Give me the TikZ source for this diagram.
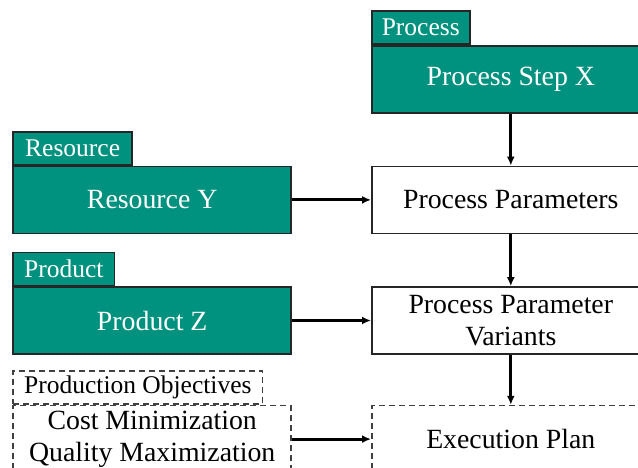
\documentclass[tikz,border=0pt]{standalone}
\usepackage{fontspec}
\setmainfont{Liberation Serif}
\usetikzlibrary{arrows.meta,positioning}

\definecolor{procteal}{RGB}{0,146,126}
\newcommand\entfont{\fontsize{27.8}{32}\selectfont}
\newcommand\labfont{\fontsize{25.5}{28}\selectfont}

\begin{document}
\begin{tikzpicture}[x=1pt, y=-1pt,
     body/.style={draw=black!85, line width=1.6pt, minimum width=278pt, minimum height=67pt,
                  inner sep=0pt, align=center, font=\entfont},
     entity/.style={body, fill=procteal, text=white},
     plan/.style={body, draw=black!75, dashed, dash pattern=on 6pt off 4pt},
     tab/.style={draw=black!85, line width=1.6pt, fill=procteal, text=white, minimum height=33pt,
                 inner xsep=10pt, inner ysep=0pt, font=\labfont, anchor=south west},
     dtab/.style={tab, draw=black!75, fill=none, text=black, dashed, dash pattern=on 6pt off 4pt},
     flow/.style={-{Latex[length=9pt,width=8pt]}, line width=3pt}]
  \useasboundingbox (0,0) rectangle (638,468);

  % right column
  \node[entity, anchor=north west] (step) at (371,45) {Process Step X};
  \node[body, below=52pt of step]   (param)    {Process Parameters};
  \node[body, below=52pt of param]  (variants) {Process Parameter\\Variants};
  \node[plan, below=50pt of variants] (exec)   {Execution Plan};

  % left column
  \node[entity, left=79pt of param]    (res)  {Resource Y};
  \node[entity, left=79pt of variants] (prod) {Product Z};
  \node[plan, left=79pt of exec]       (goal) {Cost Minimization\\Quality Maximization};

  % tabs on top of the boxes
  \node[tab]  (steptab) at (step.north west) {Process};
  \node[tab, inner xsep=12pt] (restab)  at (res.north west)  {Resource};
  \node[tab, inner xsep=11pt] (prodtab) at (prod.north west) {Product};
  \node[dtab, inner xsep=11pt] (goaltab) at (goal.north west) {Production Objectives};

  % connectors
  \draw[flow] (step) -- (param);
  \draw[flow] (param) -- (variants);
  \draw[flow] (variants) -- (exec);
  \draw[flow] (res) -- (param);
  \draw[flow] (prod) -- (variants);
  \draw[flow] (goal) -- (exec);
\end{tikzpicture}
\end{document}
